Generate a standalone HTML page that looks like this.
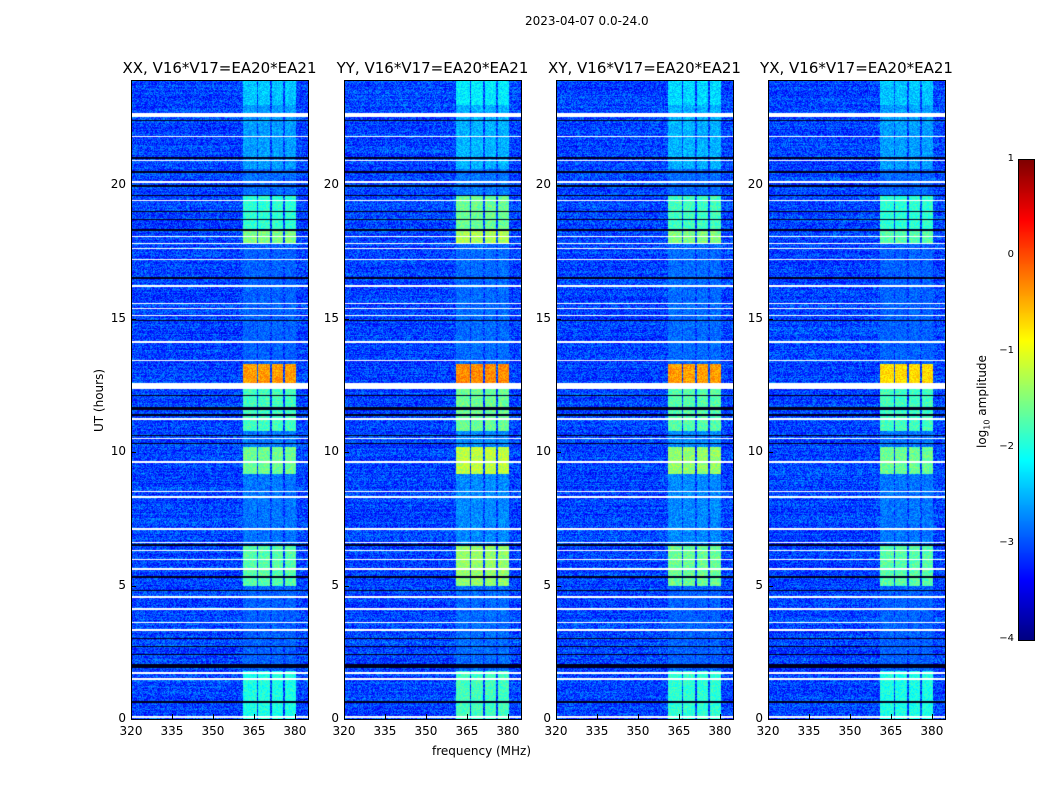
<!DOCTYPE html>
<html><head><meta charset="utf-8">
<style>
body{margin:0;background:#fff;font-family:"DejaVu Sans","Liberation Sans",sans-serif;}
#root{position:relative;width:1050px;height:800px;overflow:hidden;background:#fff}
.t{position:absolute;font-size:12px;color:#000;white-space:nowrap}
.title{position:absolute;font-size:15px;white-space:nowrap;transform:translateX(-50%)}
canvas{position:absolute}
.frame{position:absolute;border:1px solid #000;box-sizing:border-box}
</style></head><body>
<div id="root">
<div class="t" style="left:525px;top:14px">2023-04-07 0.0-24.0</div>
<div class="t" style="left:432px;top:744px">frequency (MHz)</div>
<div class="t" style="left:92px;top:432px;transform:rotate(-90deg);transform-origin:0 0">UT (hours)</div>
<div class="t" style="left:975px;top:448px;transform:rotate(-90deg);transform-origin:0 0">log<sub style="font-size:8px">10</sub> amplitude</div>
</div>
<script>
const panelTitles=["XX, V16*V17=EA20*EA21","YY, V16*V17=EA20*EA21","XY, V16*V17=EA20*EA21","YX, V16*V17=EA20*EA21"];
const xTicks=[320,335,350,365,380];
const yTicks=[0,5,10,15,20];
const cbTicks=[1,0,-1,-2,-3,-4];
const whiteRows=[[0.05,0.12],[1.45,1.52],[1.68,1.75],[3.3,3.36],[3.6,3.65],[4.1,4.15],[4.55,4.6],[5.6,5.65],[5.95,6.0],[6.3,6.35],[6.6,6.65],[7.1,7.15],[8.3,8.35],[8.5,8.55],[9.6,9.66],[10.5,10.55],[11.2,11.28],[12.35,12.6],[13.4,13.45],[14.1,14.15],[15.1,15.15],[15.35,15.4],[15.55,15.6],[16.2,16.25],[17.2,17.25],[17.6,17.65],[17.8,17.85],[18.05,18.1],[19.4,19.45],[20.1,20.15],[20.9,20.95],[21.8,21.85],[22.55,22.7]];
const blackRows=[[0.6,0.66],[1.9,2.05],[2.4,2.45],[2.7,2.75],[3.0,3.05],[4.8,4.85],[5.3,5.35],[6.5,6.55],[10.3,10.36],[10.6,10.65],[11.35,11.45],[11.6,11.7],[12.1,12.15],[14.9,14.95],[16.5,16.55],[18.3,18.36],[18.7,18.75],[19.0,19.05],[19.6,19.65],[19.95,20.0],[20.45,20.55],[21.0,21.05],[22.4,22.45]];
const rfiChannels=[[361,366],[366.5,371],[371.5,375.5],[376.5,380.3]];
const rfiSegStart=[0,1.8,5.0,6.5,9.2,10.2,10.8,12.6,13.3,17.8,18.3,19.6,20.6,23];
const rfiSegEnd  =[1.8,5.0,6.5,9.2,10.2,10.8,12.6,13.3,17.8,18.3,19.6,20.6,23,24];
const rfiLevelXX=[-2.0,-2.9,-1.7,-2.8,-1.6,-2.8,-1.8,-0.4,-2.9,-1.5,-1.9,-2.85,-2.6,-2.4];
const rfiLevelYY=[-1.8,-2.85,-1.4,-2.7,-1.2,-2.7,-1.6,-0.3,-2.85,-1.3,-1.6,-2.8,-2.5,-2.2];
const rfiLevelXY=[-1.9,-2.9,-1.6,-2.7,-1.4,-2.7,-1.7,-0.4,-2.85,-1.5,-1.8,-2.85,-2.5,-2.3];
const rfiLevelYX=[-2.0,-2.9,-1.7,-2.8,-1.6,-2.8,-1.8,-0.7,-2.9,-1.7,-1.9,-2.85,-2.6,-2.4];
const rfiLevels=[rfiLevelXX,rfiLevelYY,rfiLevelXY,rfiLevelYX];
const bgLevel=-3.05;
const panelLeft=[131,344,556,768];
const PW=177,PTOP=80,PH=639,F0=320,F1=384.8,T0=0,T1=23.95;
const root=document.getElementById('root');
function xs(f){return (f-F0)/(F1-F0)*PW;}
function ys(h){return PH-(h-T0)/(T1-T0)*PH;}
function jet(v){let t=(v+4)/5;t=Math.max(0,Math.min(1,t));const c=x=>Math.round(255*Math.max(0,Math.min(1,x)));return [c(1.5-Math.abs(4*t-3)),c(1.5-Math.abs(4*t-2)),c(1.5-Math.abs(4*t-1))];}
function hash(a,b){let h=(a*374761393+b*668265263)|0;h=(h^(h>>>13))*1274126177|0;return ((h^(h>>>16))>>>0)/4294967295;}
function add(tag,cls,style,name,txt){const e=document.createElement(tag);if(cls)e.className=cls;e.style.cssText=style;


if(txt!==undefined)e.textContent=txt;root.appendChild(e);return e;}
for(let p=0;p<4;p++){
 const L=panelLeft[p];
 const cv=add('canvas','', `left:${L}px;top:${PTOP}px;width:${PW}px;height:${PH}px`,'waterfall-'+['xx','yy','xy','yx'][p]);
 cv.width=PW;cv.height=PH;const ctx=cv.getContext('2d');const img=ctx.createImageData(PW,PH);
 const lv=rfiLevels[p];
 for(let y=0;y<PH;y++){const h=T0+(PH-y-0.5)/PH*(T1-T0);
  let seg=-1;for(let s=0;s<rfiSegStart.length;s++)if(h>=rfiSegStart[s]&&h<rfiSegEnd[s])seg=s;
  let flag=0;for(const r of whiteRows)if(h>=r[0]&&h<r[1])flag=1;for(const r of blackRows)if(h>=r[0]&&h<r[1])flag=2;
  const rowVar=(hash(y,p+7)-0.5)*0.25;
  for(let x=0;x<PW;x++){const f=F0+(x+0.5)/PW*(F1-F0);let v=bgLevel+rowVar+(hash(x+p*1000,y)-0.5)*0.8;
   for(const c of rfiChannels)if(f>=c[0]&&f<c[1]&&seg>=0)v=lv[seg]+(hash(x,y+p*3000)-0.5)*0.5;
   let col=jet(v);if(flag===1)col=[255,255,255];if(flag===2)col=[0,0,30];
   const i=(y*PW+x)*4;img.data[i]=col[0];img.data[i+1]=col[1];img.data[i+2]=col[2];img.data[i+3]=255;}}
 ctx.putImageData(img,0,0);
 add('div','frame',`left:${L}px;top:${PTOP}px;width:${PW+1}px;height:${PH+1}px`,'panel-frame');
 add('div','title',`left:${L+PW/2}px;top:59px`,'panel-title',panelTitles[p]);
 xTicks.forEach(v=>{const x=L+xs(v);add('div','t',`left:${x}px;top:724px;transform:translateX(-50%)`,'x-tick-label',String(v));
  add('div','',`position:absolute;left:${x}px;top:${PTOP+PH-5}px;width:1px;height:5px;background:#000`,'x-tick');});
 yTicks.forEach(v=>{const y=PTOP+ys(v);add('div','t',`right:${1050-L+5}px;top:${y-8}px`,'y-tick-label',String(v));
  add('div','',`position:absolute;left:${L}px;top:${y}px;width:5px;height:1px;background:#000`,'y-tick');});
}
const cb=add('canvas','',`left:1019px;top:160px;width:15px;height:480px`,'colorbar');
cb.width=15;cb.height=480;const cctx=cb.getContext('2d');
for(let y=0;y<480;y++){const v=1-y/480*5;const c=jet(v);cctx.fillStyle=`rgb(${c})`;cctx.fillRect(0,y,15,1);}
add('div','frame',`left:1018px;top:159px;width:17px;height:482px`,'colorbar-frame');
cbTicks.forEach(v=>{const y=160+(1-v)/5*480;add('div','t',`right:${1050-1014}px;top:${y-7}px;font-size:10px`,'colorbar-tick-label',v<0?'\u2212'+(-v):String(v));});
</script>
</body></html>
